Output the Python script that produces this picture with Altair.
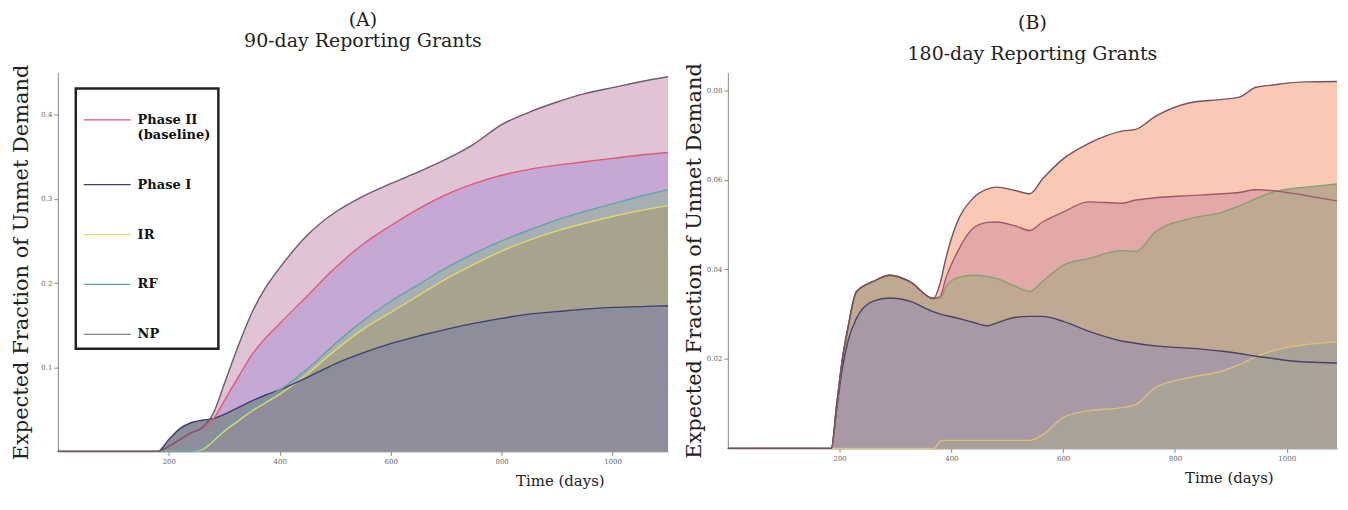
import altair as alt
import pandas as pd

SERIES = ["Phase II (baseline)", "Phase I", "IR", "RF", "NP"]

# ---------------- Panel A : 90-day reporting grants ----------------
DAYS_A = [0, 180, 200, 220, 240, 260, 280, 300, 325, 350, 375, 400, 450, 500,
          550, 600, 650, 700, 750, 800, 850, 900, 950, 1000, 1050, 1100]
A_NP = [0, 0, 0.006, 0.014, 0.022, 0.028, 0.045, 0.080, 0.125, 0.165, 0.195, 0.218, 0.257,
        0.284, 0.303, 0.318, 0.332, 0.347, 0.365, 0.388, 0.403, 0.415, 0.425, 0.432, 0.439, 0.445]
A_PH2 = [0, 0, 0.006, 0.014, 0.022, 0.027, 0.038, 0.060, 0.088, 0.115, 0.135, 0.152, 0.185,
         0.218, 0.246, 0.268, 0.288, 0.305, 0.318, 0.328, 0.335, 0.340, 0.344, 0.348, 0.352, 0.355]
A_RF = [0, 0, 0, 0, 0, 0.004, 0.015, 0.027, 0.040, 0.052, 0.063, 0.073, 0.098,
        0.128, 0.155, 0.178, 0.198, 0.218, 0.235, 0.250, 0.263, 0.275, 0.285, 0.294, 0.303, 0.311]
A_IR = [0, 0, 0, 0, 0, 0.002, 0.012, 0.024, 0.036, 0.048, 0.058, 0.068, 0.092,
        0.120, 0.145, 0.165, 0.185, 0.205, 0.222, 0.238, 0.251, 0.262, 0.271, 0.279, 0.286, 0.292]
A_PH1 = [0, 0, 0.014, 0.027, 0.034, 0.037, 0.039, 0.044, 0.052, 0.060, 0.067, 0.073, 0.088,
         0.104, 0.117, 0.128, 0.137, 0.145, 0.152, 0.158, 0.163, 0.166, 0.169, 0.171, 0.172, 0.173]

# ---------------- Panel B : 180-day reporting grants ----------------
DAYS_B = [0, 185, 195, 205, 215, 230, 260, 290, 325, 368, 380, 390, 408, 438, 465, 480,
          515, 540, 563, 600, 645, 705, 730, 765, 825, 885, 915, 945, 975, 1005, 1035, 1090]
B_NP = [0, 0, 0.010, 0.020, 0.027, 0.035, 0.0373, 0.0387, 0.0373, 0.0335, 0.0370, 0.0424,
        0.0498, 0.0558, 0.0580, 0.0584, 0.0576, 0.0569, 0.0602, 0.0647, 0.0681, 0.0709,
        0.0713, 0.0742, 0.0772, 0.0780, 0.0785, 0.0807, 0.0812, 0.0817, 0.0819, 0.0820]
B_PH2 = [0, 0, 0.010, 0.020, 0.027, 0.035, 0.0373, 0.0387, 0.0373, 0.0335, 0.0340, 0.0380,
         0.0432, 0.0491, 0.0505, 0.0506, 0.0497, 0.0487, 0.0506, 0.0528, 0.0551, 0.0548,
         0.0555, 0.0560, 0.0565, 0.0569, 0.0572, 0.0578, 0.0576, 0.0571, 0.0565, 0.0553]
B_RF = [0, 0, 0.010, 0.020, 0.027, 0.035, 0.0373, 0.0387, 0.0373, 0.0335, 0.0335, 0.0360,
        0.0380, 0.0387, 0.0384, 0.0380, 0.0362, 0.0351, 0.0373, 0.0409, 0.0424, 0.0442,
        0.0440, 0.0484, 0.0513, 0.0528, 0.0542, 0.0558, 0.0573, 0.0580, 0.0584, 0.0591]
B_PH1 = [0, 0, 0.009, 0.018, 0.024, 0.029, 0.0329, 0.0336, 0.0329, 0.0305, 0.0300, 0.0297,
         0.0292, 0.0282, 0.0274, 0.0280, 0.0293, 0.0295, 0.0295, 0.0284, 0.0262, 0.0240,
         0.0235, 0.0229, 0.0224, 0.0217, 0.0212, 0.0206, 0.0201, 0.0196, 0.0193, 0.0191]
B_IR = [0, 0, 0, 0, 0, 0, 0, 0, 0, 0, 0.0016, 0.0018, 0.0018, 0.0018, 0.0018, 0.0018,
        0.0018, 0.0018, 0.0030, 0.0069, 0.0084, 0.0091, 0.0098, 0.0136, 0.0158, 0.0173,
        0.0187, 0.0205, 0.0218, 0.0227, 0.0232, 0.0238]

Y_TICKS_A = [0.1, 0.2, 0.3, 0.4]
Y_TICKS_B = [0.02, 0.04, 0.06, 0.08]
X_TICKS = [200, 400, 600, 800, 1000]

FILL_A = {"NP": "#e0c3d5", "Phase II (baseline)": "#c6a8d4", "RF": "#a6b0b2",
          "IR": "#a7a38e", "Phase I": "#8d8d9b"}
LINE_A = ["#e0587a", "#3c4070", "#e4d868", "#5fa5a5", "#6c5c6c"]
FILL_B = {"NP": "#f9c9b6", "Phase II (baseline)": "#e2a9a8", "RF": "#bfa993",
          "Phase I": "#a999a6", "IR": "#aaa197"}
LINE_B = ["#a05868", "#4a4262", "#d8c27a", "#86a070", "#74525c"]

AREA_ORDER = ["NP", "Phase II (baseline)", "RF", "IR", "Phase I"]
AREA_ORDER_B = ["NP", "Phase II (baseline)", "RF", "Phase I", "IR"]
LINE_ORDER = ["IR", "Phase I", "RF", "Phase II (baseline)", "NP"]

FONT = "DejaVu Serif"


def long_df(days, table):
    rows = []
    for s, vals in table.items():
        for d, v in zip(days, vals):
            rows.append({"day": d, "value": v, "series": s})
    return pd.DataFrame(rows)


df_a = long_df(DAYS_A, {"Phase II (baseline)": A_PH2, "Phase I": A_PH1, "IR": A_IR,
                        "RF": A_RF, "NP": A_NP})
df_b = long_df(DAYS_B, {"Phase II (baseline)": B_PH2, "Phase I": B_PH1, "IR": B_IR,
                        "RF": B_RF, "NP": B_NP})


def panel(df, title, xmax, ymax, yticks, yfmt, fills, area_order, line_range,
          legend, width, height, ytitle_pad, line_height, offset):
    x = alt.X("day:Q", scale=alt.Scale(domain=[0, xmax], nice=False, zero=False),
              axis=alt.Axis(values=X_TICKS, format="d", title="Time (days)",
                            titleAlign="right", titleX=width - 64, titleY=22,
                            titleBaseline="top", titleFontSize=15))
    y = alt.Y("value:Q", scale=alt.Scale(domain=[0, ymax], nice=False),
              axis=alt.Axis(values=yticks, format=yfmt,
                            title="Expected Fraction of Unmet Demand",
                            titlePadding=ytitle_pad))
    layers = []
    for s in area_order:
        layers.append(
            alt.Chart(df).transform_filter(alt.datum.series == s)
            .mark_area(color=fills[s], opacity=1, interpolate="monotone")
            .encode(x=x, y=y)
        )
    cscale = alt.Scale(domain=SERIES, range=line_range)
    for s in LINE_ORDER:
        layers.append(
            alt.Chart(df).transform_filter(alt.datum.series == s)
            .mark_line(strokeWidth=1.4, interpolate="monotone")
            .encode(x=x, y=y, color=alt.Color("series:N", scale=cscale, legend=legend))
        )
    return alt.layer(*layers).properties(
        width=width, height=height,
        title=alt.TitleParams(text=title, font=FONT, fontSize=19, fontWeight="normal",
                              lineHeight=line_height, offset=offset, color="#222",
                              anchor="middle"),
    )


legend_a = alt.Legend(
    title=None, orient="none", legendX=18, legendY=16,
    symbolType="stroke", symbolSize=2209, symbolStrokeWidth=1.2,
    labelFont=FONT, labelFontSize=13, labelFontWeight="bold", labelColor="#111",
    labelOffset=6, padding=7, rowPadding=18,
    strokeColor="#222", fillColor="white",
    labelExpr="datum.label == 'Phase II (baseline)' ? ['Phase II', '(baseline)'] : datum.label",
)

chart_a = panel(df_a, ["(A)", "90-day Reporting Grants"], 1100, 0.45, Y_TICKS_A, ".1f",
                FILL_A, AREA_ORDER, LINE_A, legend_a, 612, 380, 9, 21, 13)
chart_b = panel(df_b, ["(B)", "180-day Reporting Grants"], 1090, 0.084, Y_TICKS_B, ".2f",
                FILL_B, AREA_ORDER_B, LINE_B, None, 611, 377, 2, 31, -1)

chart = (
    alt.hconcat(chart_a, chart_b, spacing=12)
    .resolve_scale(color="independent")
    .properties(padding={"left": 2, "top": 2, "right": 0, "bottom": 0})
    .configure_view(stroke=None)
    .configure_legend(strokeWidth=2.5)
    .configure_axis(
        grid=False, domainColor="#888", tickColor="#888", tickSize=4,
        labelFont=FONT, labelFontSize=7, labelColor="#666", labelPadding=2,
        titleFont=FONT, titleFontSize=21, titleFontWeight="normal", titleColor="#222",
    )
)

chart.save("out.html", embed_options={"renderer": "svg", "actions": False})
